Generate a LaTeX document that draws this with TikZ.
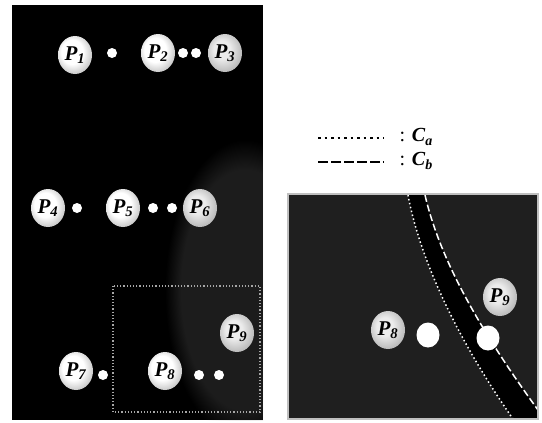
\documentclass[tikz,border=0pt]{standalone}
\usepackage{fontspec}
\setmainfont{Liberation Serif}
\usetikzlibrary{shapes,fadings}

\newcommand{\proc}[1]{\bfseries\itshape P\textsubscript{#1}}

% light from the upper left, grey towards the rim
\pgfdeclareradialshading{sitelight}{\pgfpoint{-6bp}{6bp}}{color(0bp)=(white); color(16bp)=(white); color(30bp)=(gray!50); color(50bp)=(gray!50)}
\pgfdeclareradialshading{sitedim}{\pgfpoint{-6bp}{6bp}}{color(0bp)=(gray!15); color(12bp)=(gray!15); color(30bp)=(gray!60); color(50bp)=(gray!60)}

\begin{document}
\begin{tikzpicture}[x=1pt,y=-1pt,
    site/.style={ellipse,minimum width=34pt,minimum height=38pt,inner sep=0pt,
      shading=sitelight,font=\fontsize{21}{22}\selectfont},
    sitegray/.style={site,shading=sitedim},
    dot/.style={circle,fill=white,minimum size=10pt,inner sep=0pt},
    bigdot/.style={ellipse,fill=white,minimum width=23pt,minimum height=25pt,inner sep=0pt}]
  \useasboundingbox (0,0) rectangle (542,423);

  % left panel
  \fill[black] (12,5) rectangle (263,420);
  \begin{scope}
    \clip (12,5) rectangle (263,420);
    \fill[gray,opacity=.22,path fading=circle with fuzzy edge 20 percent] (245,290) ellipse (80 and 150);
  \end{scope}
  \draw[gray!70,dotted,line width=1.2pt] (113,286) rectangle (260,412);

  \node[site] (p1) at (75,55) {\proc{1}};
  \node[dot] (d1) at (112,53) {};
  \node[site] (p2) at (158,53) {\proc{2}};
  \node[dot] (d2) at (183,53) {};
  \node[dot] (d3) at (196,53) {};
  \node[sitegray] (p3) at (225,53) {\proc{3}};

  \node[site] (p4) at (48,208) {\proc{4}};
  \node[dot] (d4) at (77,208) {};
  \node[site] (p5) at (123,208) {\proc{5}};
  \node[dot] (d5) at (153,208) {};
  \node[dot] (d6) at (172,208) {};
  \node[sitegray] (p6) at (200,208) {\proc{6}};

  \node[site] (p7) at (76,371) {\proc{7}};
  \node[dot] (d7) at (103,375) {};
  \node[site] (p8) at (165,371) {\proc{8}};
  \node[dot] (d8) at (199,375) {};
  \node[dot] (d9) at (219,375) {};
  \node[sitegray] (p9) at (237,333) {\proc{9}};

  % legend
  \coordinate (ca1) at (318,138);
  \coordinate (ca2) at (384,138);
  \coordinate (cb1) at (318,162);
  \coordinate (cb2) at (384,162);
  \draw[line width=2.5pt,dash pattern=on 2.5pt off 4pt] (ca1) -- (ca2);
  \draw[line width=2.5pt,dash pattern=on 10pt off 3pt] (cb1) -- (cb2);
  \node[right,font=\fontsize{20}{22}\selectfont] (la) at (396,137) {: \textbf{\textit{C}\textsubscript{\textit{a}}}};
  \node[right,font=\fontsize{20}{22}\selectfont] (lb) at (396,161) {: \textbf{\textit{C}\textsubscript{\textit{b}}}};

  % right panel (close-up)
  \fill[black!88] (288,194) rectangle (538,419);
  \fill[black] (408,195) .. controls (420,260) and (458,340) .. (513,419)
    -- (538,419) -- (538,410) .. controls (480,330) and (440,260) .. (425,195) -- cycle;
  \draw[white,line width=1.5pt,dash pattern=on 1.5pt off 2.5pt] (408,195) .. controls (420,260) and (458,340) .. (513,419);
  \draw[white,line width=1.5pt,dash pattern=on 7pt off 3pt] (425,195) .. controls (440,260) and (480,330) .. (538,410);
  \draw[gray!50,line width=2pt] (288,194) rectangle (538,419);

  \node[sitegray] (q8) at (388,330) {\proc{8}};
  \node[sitegray] (q9) at (500,297) {\proc{9}};
  \node[bigdot] (m1) at (428,335) {};
  \node[bigdot] (m2) at (488,338) {};
\end{tikzpicture}
\end{document}
